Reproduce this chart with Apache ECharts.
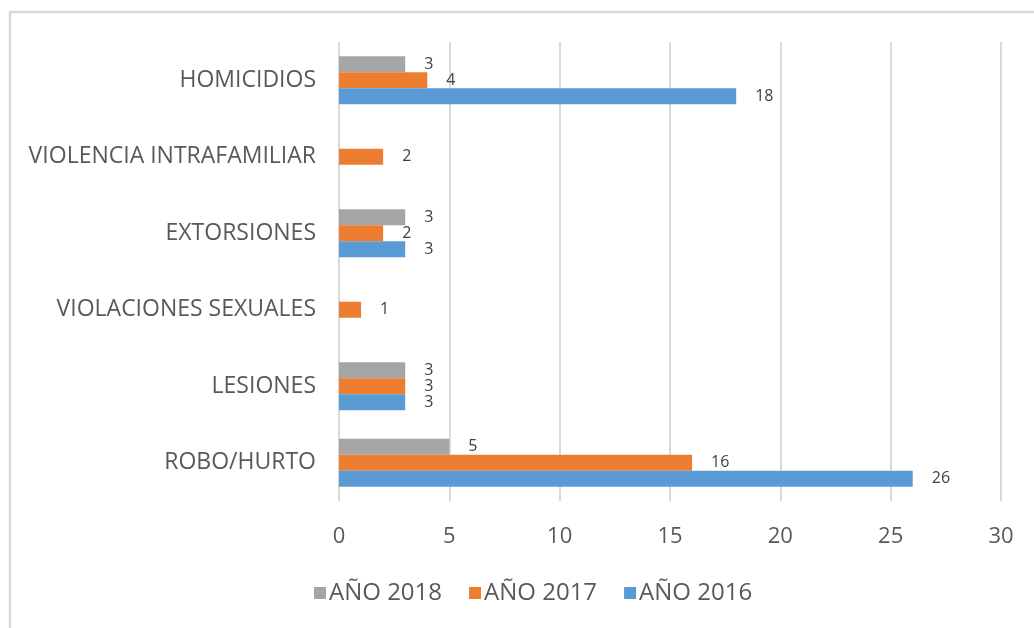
<!DOCTYPE html>
<html>
<head>
<meta charset="utf-8">
<script src="https://cdn.jsdelivr.net/npm/echarts@6/dist/echarts.min.js"></script>
<style>
  html, body { margin: 0; padding: 0; background: #fff; }
  #chart { width: 1034px; height: 628px; }
</style>
</head>
<body>
<div id="chart"></div>
<script>
// categorias de abajo hacia arriba (eje Y invertido como en Excel)
const categories = ['ROBO/HURTO', 'LESIONES', 'VIOLACIONES SEXUALES', 'EXTORSIONES', 'VIOLENCIA INTRAFAMILIAR', 'HOMICIDIOS']
const anio2016 = [26, 3, null, 3, null, 18]
const anio2017 = [16, 3, 1, 2, 2, 4]
const anio2018 = [5, 3, null, 3, null, 3]
const xTicks = [0, 5, 10, 15, 20, 25, 30]

const font = '"Open Sans", "Noto Sans", sans-serif'

function barSerie (name, data, color) {
  return {
    name: name,
    type: 'bar',
    data: data,
    barGap: '0%',
    barCategoryGap: '37%',
    itemStyle: { color: color },
    label: {
      show: true,
      position: 'right',
      distance: 19,
      color: '#404040',
      fontSize: 16,
      fontFamily: font
    }
  }
}

const myChart = echarts.init(document.getElementById('chart'))
myChart.setOption({
  animation: false,
  textStyle: { fontFamily: font },
  graphic: [
    {
      type: 'rect',
      shape: { x: 10, y: 12, width: 1100, height: 700 },
      style: { fill: 'none', stroke: '#d9d9d9', lineWidth: 2.5 },
      silent: true
    }
  ],
  grid: {
    left: 339,
    right: 33,
    top: 42,
    bottom: 127
  },
  legend: {
    left: 309,
    top: 576,
    itemWidth: 12,
    itemHeight: 12,
    itemGap: 27,
    icon: 'rect',
    data: ['AÑO 2018', 'AÑO 2017', 'AÑO 2016'],
    textStyle: { color: '#595959', fontSize: 24, fontFamily: font, padding: [0, 0, 0, -2] }
  },
  xAxis: {
    type: 'value',
    min: xTicks[0],
    max: xTicks[xTicks.length - 1],
    interval: 5,
    axisLine: { show: false },
    axisTick: { show: false },
    splitLine: { lineStyle: { color: '#d9d9d9', width: 2 } },
    axisLabel: { color: '#595959', fontSize: 22, margin: 25, fontFamily: font }
  },
  yAxis: {
    type: 'category',
    data: categories,
    axisLine: { show: false },
    axisTick: { show: false },
    axisLabel: { color: '#595959', fontSize: 23, margin: 23, fontFamily: font }
  },
  // el orden de series pone la primera arriba en cada grupo
  series: [
    barSerie('AÑO 2018', anio2018, '#a5a5a5'),
    barSerie('AÑO 2017', anio2017, '#ed7d31'),
    barSerie('AÑO 2016', anio2016, '#5b9bd5')
  ]
})
</script>
</body>
</html>
